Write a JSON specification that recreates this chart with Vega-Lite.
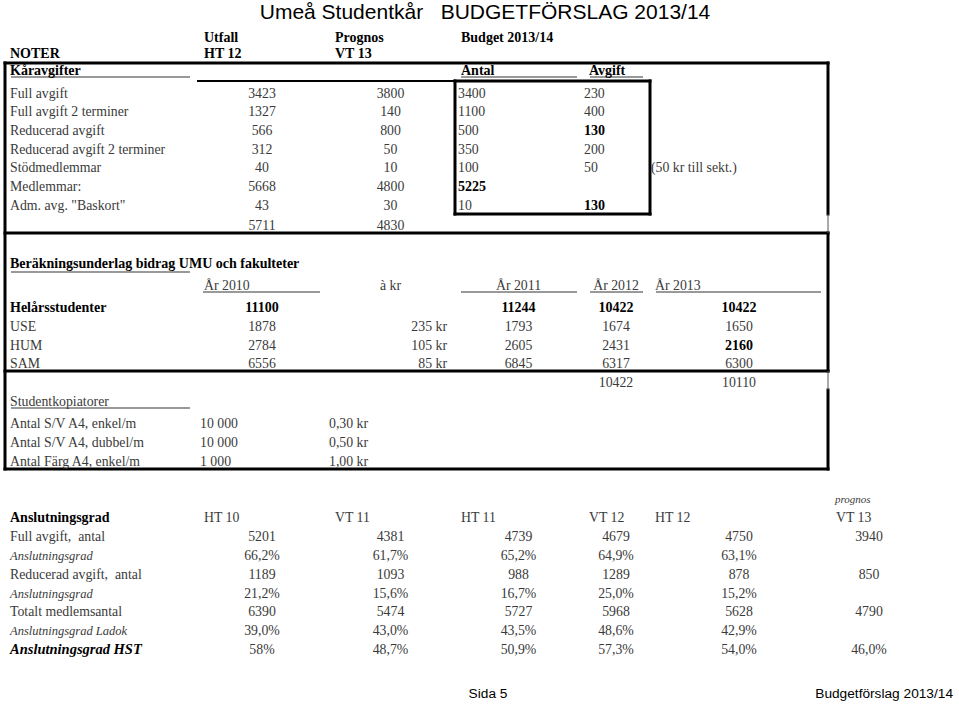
{
  "$schema": "https://vega.github.io/schema/vega-lite/v6.json",
  "width": 959,
  "height": 704,
  "autosize": {"type": "none"},
  "padding": 0,
  "background": "white",
  "config": {"view": {"stroke": null}},
  "datasets": {
    "cells": [
      {"r": 2, "c": 1, "t": "Utfall", "k": "ab"},
      {"r": 2, "c": 2, "t": "Prognos", "k": "ab"},
      {"r": 2, "c": 3, "t": "Budget 2013/14", "k": "ab"},
      {"r": 3, "c": 0, "t": "NOTER", "k": "ab"},
      {"r": 3, "c": 1, "t": "HT 12", "k": "ab"},
      {"r": 3, "c": 2, "t": "VT 13", "k": "ab"},
      {"r": 4, "c": 0, "t": "Kåravgifter", "k": "ab"},
      {"r": 4, "c": 3, "t": "Antal", "k": "ab"},
      {"r": 4, "c": 4, "t": "Avgift", "k": "ab"},
      {"r": 5, "c": 0, "t": "Full avgift", "k": "a"},
      {"r": 5, "c": 1, "t": "3423", "k": "c"},
      {"r": 5, "c": 2, "t": "3800", "k": "c"},
      {"r": 5, "c": 3, "t": "3400", "k": "v"},
      {"r": 5, "c": 4, "t": "230", "k": "v"},
      {"r": 6, "c": 0, "t": "Full avgift 2 terminer", "k": "a"},
      {"r": 6, "c": 1, "t": "1327", "k": "c"},
      {"r": 6, "c": 2, "t": "140", "k": "c"},
      {"r": 6, "c": 3, "t": "1100", "k": "v"},
      {"r": 6, "c": 4, "t": "400", "k": "v"},
      {"r": 7, "c": 0, "t": "Reducerad avgift", "k": "a"},
      {"r": 7, "c": 1, "t": "566", "k": "c"},
      {"r": 7, "c": 2, "t": "800", "k": "c"},
      {"r": 7, "c": 3, "t": "500", "k": "v"},
      {"r": 7, "c": 4, "t": "130", "k": "vb"},
      {"r": 8, "c": 0, "t": "Reducerad avgift 2 terminer", "k": "a"},
      {"r": 8, "c": 1, "t": "312", "k": "c"},
      {"r": 8, "c": 2, "t": "50", "k": "c"},
      {"r": 8, "c": 3, "t": "350", "k": "v"},
      {"r": 8, "c": 4, "t": "200", "k": "v"},
      {"r": 9, "c": 0, "t": "Stödmedlemmar", "k": "a"},
      {"r": 9, "c": 1, "t": "40", "k": "c"},
      {"r": 9, "c": 2, "t": "10", "k": "c"},
      {"r": 9, "c": 3, "t": "100", "k": "v"},
      {"r": 9, "c": 4, "t": "50", "k": "v"},
      {"r": 9, "c": 5, "t": "(50 kr till sekt.)", "k": "v"},
      {"r": 10, "c": 0, "t": "Medlemmar:", "k": "a"},
      {"r": 10, "c": 1, "t": "5668", "k": "c"},
      {"r": 10, "c": 2, "t": "4800", "k": "c"},
      {"r": 10, "c": 3, "t": "5225", "k": "vb"},
      {"r": 11, "c": 0, "t": "Adm. avg. \"Baskort\"", "k": "a"},
      {"r": 11, "c": 1, "t": "43", "k": "c"},
      {"r": 11, "c": 2, "t": "30", "k": "c"},
      {"r": 11, "c": 3, "t": "10", "k": "v"},
      {"r": 11, "c": 4, "t": "130", "k": "vb"},
      {"r": 12, "c": 1, "t": "5711", "k": "c"},
      {"r": 12, "c": 2, "t": "4830", "k": "c"},
      {"r": 14, "c": 0, "t": "Beräkningsunderlag bidrag UMU och fakulteter", "k": "ab"},
      {"r": 15, "c": 1, "t": "År 2010", "k": "a"},
      {"r": 15, "c": 2, "t": "à kr", "k": "c"},
      {"r": 15, "c": 3, "t": "År 2011", "k": "c"},
      {"r": 15, "c": 4, "t": "År 2012", "k": "c"},
      {"r": 15, "c": 5, "t": "År 2013", "k": "a"},
      {"r": 16, "c": 0, "t": "Helårsstudenter", "k": "ab"},
      {"r": 16, "c": 1, "t": "11100", "k": "cb"},
      {"r": 16, "c": 3, "t": "11244", "k": "cb"},
      {"r": 16, "c": 4, "t": "10422", "k": "cb"},
      {"r": 16, "c": 5, "t": "10422", "k": "cb"},
      {"r": 17, "c": 0, "t": "USE", "k": "a"},
      {"r": 17, "c": 1, "t": "1878", "k": "c"},
      {"r": 17, "c": 2, "t": "235 kr", "k": "r"},
      {"r": 17, "c": 3, "t": "1793", "k": "c"},
      {"r": 17, "c": 4, "t": "1674", "k": "c"},
      {"r": 17, "c": 5, "t": "1650", "k": "c"},
      {"r": 18, "c": 0, "t": "HUM", "k": "a"},
      {"r": 18, "c": 1, "t": "2784", "k": "c"},
      {"r": 18, "c": 2, "t": "105 kr", "k": "r"},
      {"r": 18, "c": 3, "t": "2605", "k": "c"},
      {"r": 18, "c": 4, "t": "2431", "k": "c"},
      {"r": 18, "c": 5, "t": "2160", "k": "cb"},
      {"r": 19, "c": 0, "t": "SAM", "k": "a"},
      {"r": 19, "c": 1, "t": "6556", "k": "c"},
      {"r": 19, "c": 2, "t": "85 kr", "k": "r"},
      {"r": 19, "c": 3, "t": "6845", "k": "c"},
      {"r": 19, "c": 4, "t": "6317", "k": "c"},
      {"r": 19, "c": 5, "t": "6300", "k": "c"},
      {"r": 20, "c": 4, "t": "10422", "k": "c"},
      {"r": 20, "c": 5, "t": "10110", "k": "c"},
      {"r": 21, "c": 0, "t": "Studentkopiatorer", "k": "a"},
      {"r": 22, "c": 0, "t": "Antal S/V A4, enkel/m", "k": "a"},
      {"r": 22, "c": 1, "t": "10 000", "k": "v"},
      {"r": 22, "c": 2, "t": "0,30 kr", "k": "v"},
      {"r": 23, "c": 0, "t": "Antal S/V A4, dubbel/m", "k": "a"},
      {"r": 23, "c": 1, "t": "10 000", "k": "v"},
      {"r": 23, "c": 2, "t": "0,50 kr", "k": "v"},
      {"r": 24, "c": 0, "t": "Antal Färg A4, enkel/m", "k": "a"},
      {"r": 24, "c": 1, "t": "1 000", "k": "v"},
      {"r": 24, "c": 2, "t": "1,00 kr", "k": "v"},
      {"r": 26, "c": 6, "t": "prognos", "k": "s"},
      {"r": 27, "c": 0, "t": "Anslutningsgrad", "k": "ab"},
      {"r": 27, "c": 1, "t": "HT 10", "k": "a"},
      {"r": 27, "c": 2, "t": "VT 11", "k": "a"},
      {"r": 27, "c": 3, "t": "HT 11", "k": "a"},
      {"r": 27, "c": 4, "t": "VT 12", "k": "a"},
      {"r": 27, "c": 5, "t": "HT 12", "k": "a"},
      {"r": 27, "c": 6, "t": "VT 13", "k": "a"},
      {"r": 28, "c": 0, "t": "Full avgift,\u00a0 antal", "k": "a"},
      {"r": 28, "c": 1, "t": "5201", "k": "c"},
      {"r": 28, "c": 2, "t": "4381", "k": "c"},
      {"r": 28, "c": 3, "t": "4739", "k": "c"},
      {"r": 28, "c": 4, "t": "4679", "k": "c"},
      {"r": 28, "c": 5, "t": "4750", "k": "c"},
      {"r": 28, "c": 6, "t": "3940", "k": "c"},
      {"r": 29, "c": 0, "t": "Anslutningsgrad", "k": "ai"},
      {"r": 29, "c": 1, "t": "66,2%", "k": "c"},
      {"r": 29, "c": 2, "t": "61,7%", "k": "c"},
      {"r": 29, "c": 3, "t": "65,2%", "k": "c"},
      {"r": 29, "c": 4, "t": "64,9%", "k": "c"},
      {"r": 29, "c": 5, "t": "63,1%", "k": "c"},
      {"r": 30, "c": 0, "t": "Reducerad avgift,\u00a0 antal", "k": "a"},
      {"r": 30, "c": 1, "t": "1189", "k": "c"},
      {"r": 30, "c": 2, "t": "1093", "k": "c"},
      {"r": 30, "c": 3, "t": "988", "k": "c"},
      {"r": 30, "c": 4, "t": "1289", "k": "c"},
      {"r": 30, "c": 5, "t": "878", "k": "c"},
      {"r": 30, "c": 6, "t": "850", "k": "c"},
      {"r": 31, "c": 0, "t": "Anslutningsgrad", "k": "ai"},
      {"r": 31, "c": 1, "t": "21,2%", "k": "c"},
      {"r": 31, "c": 2, "t": "15,6%", "k": "c"},
      {"r": 31, "c": 3, "t": "16,7%", "k": "c"},
      {"r": 31, "c": 4, "t": "25,0%", "k": "c"},
      {"r": 31, "c": 5, "t": "15,2%", "k": "c"},
      {"r": 32, "c": 0, "t": "Totalt medlemsantal", "k": "a"},
      {"r": 32, "c": 1, "t": "6390", "k": "c"},
      {"r": 32, "c": 2, "t": "5474", "k": "c"},
      {"r": 32, "c": 3, "t": "5727", "k": "c"},
      {"r": 32, "c": 4, "t": "5968", "k": "c"},
      {"r": 32, "c": 5, "t": "5628", "k": "c"},
      {"r": 32, "c": 6, "t": "4790", "k": "c"},
      {"r": 33, "c": 0, "t": "Anslutningsgrad Ladok", "k": "ai"},
      {"r": 33, "c": 1, "t": "39,0%", "k": "c"},
      {"r": 33, "c": 2, "t": "43,0%", "k": "c"},
      {"r": 33, "c": 3, "t": "43,5%", "k": "c"},
      {"r": 33, "c": 4, "t": "48,6%", "k": "c"},
      {"r": 33, "c": 5, "t": "42,9%", "k": "c"},
      {"r": 34, "c": 0, "t": "Anslutningsgrad HST", "k": "abi"},
      {"r": 34, "c": 1, "t": "58%", "k": "c"},
      {"r": 34, "c": 2, "t": "48,7%", "k": "c"},
      {"r": 34, "c": 3, "t": "50,9%", "k": "c"},
      {"r": 34, "c": 4, "t": "57,3%", "k": "c"},
      {"r": 34, "c": 5, "t": "54,0%", "k": "c"},
      {"r": 34, "c": 6, "t": "46,0%", "k": "c"}
    ],
    "page": [
      {"r": 1, "p": "center", "t": "Umeå Studentkår\u00a0\u00a0 BUDGETFÖRSLAG 2013/14", "k": "title"},
      {"r": 35, "p": "center", "t": "Sida 5", "k": "fc"},
      {"r": 35, "p": "right", "t": "Budgetförslag 2013/14", "k": "fr"}
    ],
    "borders": [
      {"x0": 0, "x1": 6, "y0": 3, "y1": 3, "w": "thick"},
      {"x0": 0, "x1": 6, "y0": 12, "y1": 12, "w": "thick"},
      {"x0": 0, "x1": 6, "y0": 19, "y1": 19, "w": "thick"},
      {"x0": 0, "x1": 6, "y0": 24, "y1": 24, "w": "thick"},
      {"x0": 3, "x1": 5, "y0": 4, "y1": 4, "w": "thick"},
      {"x0": 3, "x1": 5, "y0": 11, "y1": 11, "w": "thick"},
      {"x0": 0, "x1": 0, "y0": 3, "y1": 24, "w": "thick"},
      {"x0": 6, "x1": 6, "y0": 3, "y1": 11, "w": "thick"},
      {"x0": 6, "x1": 6, "y0": 12, "y1": 19, "w": "thick"},
      {"x0": 6, "x1": 6, "y0": 20, "y1": 24, "w": "thick"},
      {"x0": 3, "x1": 3, "y0": 4, "y1": 11, "w": "thick"},
      {"x0": 5, "x1": 5, "y0": 4, "y1": 11, "w": "thick"},
      {"x0": 1, "x1": 3, "y0": 4, "y1": 4, "w": "medium"},
      {"x0": 6, "x1": 6, "y0": 11, "y1": 12, "w": "thin"},
      {"x0": 6, "x1": 6, "y0": 19, "y1": 20, "w": "thin"}
    ],
    "underlines": [
      {"c0": 0, "c1": 1, "r": 4},
      {"c0": 3, "c1": 4, "r": 4},
      {"c0": 4, "c1": 5, "r": 4},
      {"c0": 0, "c1": 1, "r": 14},
      {"c0": 1, "c1": 2, "r": 15},
      {"c0": 3, "c1": 4, "r": 15},
      {"c0": 4, "c1": 5, "r": 15},
      {"c0": 5, "c1": 6, "r": 15},
      {"c0": 0, "c1": 1, "r": 21}
    ]
  },
  "resolve": {"scale": {"x": "independent", "y": "independent"}},
  "layer": [
    {
      "data": {"name": "borders"},
      "transform": [{"filter": "datum.w === 'thick'"}],
      "mark": {"type": "rule", "stroke": "#000000", "strokeWidth": 3, "strokeCap": "square"},
      "encoding": {
        "x": {"field": "x0", "type": "quantitative", "axis": null, "scale": {"domain": [0, 1, 2, 3, 4, 5, 6], "range": [5, 197, 327, 455, 584, 650, 828], "zero": false, "nice": false}},
        "x2": {"field": "x1"},
        "y": {"field": "y0", "type": "quantitative", "axis": null, "scale": {"domain": [3, 4, 11, 12, 19, 20, 24], "range": [63, 81, 214, 233, 371, 390, 469], "zero": false, "nice": false}},
        "y2": {"field": "y1"}
      }
    },
    {
      "data": {"name": "borders"},
      "transform": [{"filter": "datum.w === 'medium'"}],
      "mark": {"type": "rule", "stroke": "#000000", "strokeWidth": 2},
      "encoding": {
        "x": {"field": "x0", "type": "quantitative", "axis": null, "scale": {"domain": [0, 1, 2, 3, 4, 5, 6], "range": [5, 197, 327, 455, 584, 650, 828], "zero": false, "nice": false}},
        "x2": {"field": "x1"},
        "y": {"field": "y0", "type": "quantitative", "axis": null, "scale": {"domain": [3, 4, 11, 12, 19, 20, 24], "range": [63, 81, 214, 233, 371, 390, 469], "zero": false, "nice": false}},
        "y2": {"field": "y1"}
      }
    },
    {
      "data": {"name": "borders"},
      "transform": [{"filter": "datum.w === 'thin'"}],
      "mark": {"type": "rule", "stroke": "#555555", "strokeWidth": 1},
      "encoding": {
        "x": {"field": "x0", "type": "quantitative", "axis": null, "scale": {"domain": [0, 1, 2, 3, 4, 5, 6], "range": [5, 197, 327, 455, 584, 650, 828], "zero": false, "nice": false}},
        "x2": {"field": "x1"},
        "y": {"field": "y0", "type": "quantitative", "axis": null, "scale": {"domain": [3, 4, 11, 12, 19, 20, 24], "range": [63, 81, 214, 233, 371, 390, 469], "zero": false, "nice": false}},
        "y2": {"field": "y1"}
      }
    },
    {
      "data": {"name": "underlines"},
      "mark": {"type": "rule", "stroke": "#777777", "strokeWidth": 1.6, "xOffset": 6, "x2Offset": -7},
      "encoding": {
        "x": {"field": "c0", "type": "quantitative", "axis": null, "scale": {"domain": [0, 1, 2, 3, 4, 5, 6], "range": [5, 197, 327, 455, 584, 650, 828], "zero": false, "nice": false}},
        "x2": {"field": "c1"},
        "y": {"field": "r", "type": "quantitative", "axis": null, "scale": {"domain": [4, 14, 15, 21], "range": [77, 272, 292, 408], "zero": false, "nice": false}}
      }
    },
    {
      "data": {"name": "cells"},
      "transform": [{"filter": "datum.k === 'a'"}],
      "mark": {"type": "text", "align": "left", "baseline": "middle", "dy": 1.5, "font": "Liberation Serif", "fontSize": 13.8, "fill": "#3a3a3a"},
      "encoding": {
        "x": {"field": "c", "type": "quantitative", "axis": null, "scale": {"domain": [0, 1, 2, 3, 4, 5, 6], "range": [10, 204, 335, 461, 589, 655, 836], "zero": false, "nice": false}},
        "y": {"field": "r", "type": "quantitative", "axis": null, "scale": {"domain": [1,2,3,4,5,6,7,8,9,10,11,12,13,14,15,16,17,18,19,20,21,22,23,24,25,26,27,28,29,30,31,32,33,34,35], "range": [13,36,52,69,92,110,129,148,166,185,204,224,243,262,284,306,325,344,362,381,400,422,441,460,479,498,516,535,554,573,592,610,629,648,694], "zero": false, "nice": false}},
        "text": {"field": "t"}
      }
    },
    {
      "data": {"name": "cells"},
      "transform": [{"filter": "datum.k === 'ab'"}],
      "mark": {"type": "text", "align": "left", "baseline": "middle", "dy": 1.5, "font": "Liberation Serif", "fontSize": 14, "fontWeight": "bold", "fill": "#000000"},
      "encoding": {
        "x": {"field": "c", "type": "quantitative", "axis": null, "scale": {"domain": [0, 1, 2, 3, 4, 5, 6], "range": [10, 204, 335, 461, 589, 655, 836], "zero": false, "nice": false}},
        "y": {"field": "r", "type": "quantitative", "axis": null, "scale": {"domain": [1,2,3,4,5,6,7,8,9,10,11,12,13,14,15,16,17,18,19,20,21,22,23,24,25,26,27,28,29,30,31,32,33,34,35], "range": [13,36,52,69,92,110,129,148,166,185,204,224,243,262,284,306,325,344,362,381,400,422,441,460,479,498,516,535,554,573,592,610,629,648,694], "zero": false, "nice": false}},
        "text": {"field": "t"}
      }
    },
    {
      "data": {"name": "cells"},
      "transform": [{"filter": "datum.k === 'ai'"}],
      "mark": {"type": "text", "align": "left", "baseline": "middle", "dy": 1.5, "font": "Liberation Serif", "fontSize": 12.5, "fontStyle": "italic", "fill": "#3a3a3a"},
      "encoding": {
        "x": {"field": "c", "type": "quantitative", "axis": null, "scale": {"domain": [0, 1, 2, 3, 4, 5, 6], "range": [10, 204, 335, 461, 589, 655, 836], "zero": false, "nice": false}},
        "y": {"field": "r", "type": "quantitative", "axis": null, "scale": {"domain": [1,2,3,4,5,6,7,8,9,10,11,12,13,14,15,16,17,18,19,20,21,22,23,24,25,26,27,28,29,30,31,32,33,34,35], "range": [13,36,52,69,92,110,129,148,166,185,204,224,243,262,284,306,325,344,362,381,400,422,441,460,479,498,516,535,554,573,592,610,629,648,694], "zero": false, "nice": false}},
        "text": {"field": "t"}
      }
    },
    {
      "data": {"name": "cells"},
      "transform": [{"filter": "datum.k === 'abi'"}],
      "mark": {"type": "text", "align": "left", "baseline": "middle", "dy": 1.5, "font": "Liberation Serif", "fontSize": 14.5, "fontStyle": "italic", "fontWeight": "bold", "fill": "#000000"},
      "encoding": {
        "x": {"field": "c", "type": "quantitative", "axis": null, "scale": {"domain": [0, 1, 2, 3, 4, 5, 6], "range": [10, 204, 335, 461, 589, 655, 836], "zero": false, "nice": false}},
        "y": {"field": "r", "type": "quantitative", "axis": null, "scale": {"domain": [1,2,3,4,5,6,7,8,9,10,11,12,13,14,15,16,17,18,19,20,21,22,23,24,25,26,27,28,29,30,31,32,33,34,35], "range": [13,36,52,69,92,110,129,148,166,185,204,224,243,262,284,306,325,344,362,381,400,422,441,460,479,498,516,535,554,573,592,610,629,648,694], "zero": false, "nice": false}},
        "text": {"field": "t"}
      }
    },
    {
      "data": {"name": "cells"},
      "transform": [{"filter": "datum.k === 's'"}],
      "mark": {"type": "text", "align": "left", "baseline": "middle", "dy": 1.5, "font": "Liberation Serif", "fontSize": 11, "fontStyle": "italic", "fill": "#3a3a3a"},
      "encoding": {
        "x": {"field": "c", "type": "quantitative", "axis": null, "scale": {"domain": [0, 1, 2, 3, 4, 5, 6], "range": [10, 204, 335, 461, 589, 655, 835], "zero": false, "nice": false}},
        "y": {"field": "r", "type": "quantitative", "axis": null, "scale": {"domain": [1,2,3,4,5,6,7,8,9,10,11,12,13,14,15,16,17,18,19,20,21,22,23,24,25,26,27,28,29,30,31,32,33,34,35], "range": [13,36,52,69,92,110,129,148,166,185,204,224,243,262,284,306,325,344,362,381,400,422,441,460,479,498,516,535,554,573,592,610,629,648,694], "zero": false, "nice": false}},
        "text": {"field": "t"}
      }
    },
    {
      "data": {"name": "cells"},
      "transform": [{"filter": "datum.k === 'v'"}],
      "mark": {"type": "text", "align": "left", "baseline": "middle", "dy": 1.5, "font": "Liberation Serif", "fontSize": 13.8, "fill": "#3a3a3a"},
      "encoding": {
        "x": {"field": "c", "type": "quantitative", "axis": null, "scale": {"domain": [0, 1, 2, 3, 4, 5, 6], "range": [10, 200, 329, 458, 584, 651, 832], "zero": false, "nice": false}},
        "y": {"field": "r", "type": "quantitative", "axis": null, "scale": {"domain": [1,2,3,4,5,6,7,8,9,10,11,12,13,14,15,16,17,18,19,20,21,22,23,24,25,26,27,28,29,30,31,32,33,34,35], "range": [13,36,52,69,92,110,129,148,166,185,204,224,243,262,284,306,325,344,362,381,400,422,441,460,479,498,516,535,554,573,592,610,629,648,694], "zero": false, "nice": false}},
        "text": {"field": "t"}
      }
    },
    {
      "data": {"name": "cells"},
      "transform": [{"filter": "datum.k === 'vb'"}],
      "mark": {"type": "text", "align": "left", "baseline": "middle", "dy": 1.5, "font": "Liberation Serif", "fontSize": 14, "fontWeight": "bold", "fill": "#000000"},
      "encoding": {
        "x": {"field": "c", "type": "quantitative", "axis": null, "scale": {"domain": [0, 1, 2, 3, 4, 5, 6], "range": [10, 200, 329, 458, 584, 651, 832], "zero": false, "nice": false}},
        "y": {"field": "r", "type": "quantitative", "axis": null, "scale": {"domain": [1,2,3,4,5,6,7,8,9,10,11,12,13,14,15,16,17,18,19,20,21,22,23,24,25,26,27,28,29,30,31,32,33,34,35], "range": [13,36,52,69,92,110,129,148,166,185,204,224,243,262,284,306,325,344,362,381,400,422,441,460,479,498,516,535,554,573,592,610,629,648,694], "zero": false, "nice": false}},
        "text": {"field": "t"}
      }
    },
    {
      "data": {"name": "cells"},
      "transform": [{"filter": "datum.k === 'c'"}],
      "mark": {"type": "text", "align": "center", "baseline": "middle", "dy": 1.5, "font": "Liberation Serif", "fontSize": 13.8, "fill": "#3a3a3a"},
      "encoding": {
        "x": {"field": "c", "type": "quantitative", "axis": null, "scale": {"domain": [0, 1, 2, 3, 4, 5, 6], "range": [101, 262, 390.5, 518.5, 616, 739, 869], "zero": false, "nice": false}},
        "y": {"field": "r", "type": "quantitative", "axis": null, "scale": {"domain": [1,2,3,4,5,6,7,8,9,10,11,12,13,14,15,16,17,18,19,20,21,22,23,24,25,26,27,28,29,30,31,32,33,34,35], "range": [13,36,52,69,92,110,129,148,166,185,204,224,243,262,284,306,325,344,362,381,400,422,441,460,479,498,516,535,554,573,592,610,629,648,694], "zero": false, "nice": false}},
        "text": {"field": "t"}
      }
    },
    {
      "data": {"name": "cells"},
      "transform": [{"filter": "datum.k === 'cb'"}],
      "mark": {"type": "text", "align": "center", "baseline": "middle", "dy": 1.5, "font": "Liberation Serif", "fontSize": 14, "fontWeight": "bold", "fill": "#000000"},
      "encoding": {
        "x": {"field": "c", "type": "quantitative", "axis": null, "scale": {"domain": [0, 1, 2, 3, 4, 5, 6], "range": [101, 262, 390.5, 518.5, 616, 739, 869], "zero": false, "nice": false}},
        "y": {"field": "r", "type": "quantitative", "axis": null, "scale": {"domain": [1,2,3,4,5,6,7,8,9,10,11,12,13,14,15,16,17,18,19,20,21,22,23,24,25,26,27,28,29,30,31,32,33,34,35], "range": [13,36,52,69,92,110,129,148,166,185,204,224,243,262,284,306,325,344,362,381,400,422,441,460,479,498,516,535,554,573,592,610,629,648,694], "zero": false, "nice": false}},
        "text": {"field": "t"}
      }
    },
    {
      "data": {"name": "cells"},
      "transform": [{"filter": "datum.k === 'r'"}],
      "mark": {"type": "text", "align": "right", "baseline": "middle", "dy": 1.5, "font": "Liberation Serif", "fontSize": 13.8, "fill": "#3a3a3a"},
      "encoding": {
        "x": {"field": "c", "type": "quantitative", "axis": null, "scale": {"domain": [0, 1, 2, 3, 4, 5, 6], "range": [190, 320, 447, 577, 643, 821, 903], "zero": false, "nice": false}},
        "y": {"field": "r", "type": "quantitative", "axis": null, "scale": {"domain": [1,2,3,4,5,6,7,8,9,10,11,12,13,14,15,16,17,18,19,20,21,22,23,24,25,26,27,28,29,30,31,32,33,34,35], "range": [13,36,52,69,92,110,129,148,166,185,204,224,243,262,284,306,325,344,362,381,400,422,441,460,479,498,516,535,554,573,592,610,629,648,694], "zero": false, "nice": false}},
        "text": {"field": "t"}
      }
    },
    {
      "data": {"name": "page"},
      "transform": [{"filter": "datum.k === 'title'"}],
      "mark": {"type": "text", "align": "center", "baseline": "middle", "font": "Liberation Sans", "fontSize": 21, "fill": "#000000"},
      "encoding": {
        "x": {"field": "p", "type": "nominal", "axis": null, "scale": {"type": "point", "domain": ["center", "right"], "range": [485, 953], "padding": 0}},
        "y": {"field": "r", "type": "quantitative", "axis": null, "scale": {"domain": [1,2,3,4,5,6,7,8,9,10,11,12,13,14,15,16,17,18,19,20,21,22,23,24,25,26,27,28,29,30,31,32,33,34,35], "range": [13,36,52,69,92,110,129,148,166,185,204,224,243,262,284,306,325,344,362,381,400,422,441,460,479,498,516,535,554,573,592,610,629,648,694], "zero": false, "nice": false}},
        "text": {"field": "t"}
      }
    },
    {
      "data": {"name": "page"},
      "transform": [{"filter": "datum.k === 'fc'"}],
      "mark": {"type": "text", "align": "center", "baseline": "middle", "font": "Liberation Sans", "fontSize": 13.7, "fill": "#000000"},
      "encoding": {
        "x": {"field": "p", "type": "nominal", "axis": null, "scale": {"type": "point", "domain": ["center", "right"], "range": [488, 953], "padding": 0}},
        "y": {"field": "r", "type": "quantitative", "axis": null, "scale": {"domain": [1,2,3,4,5,6,7,8,9,10,11,12,13,14,15,16,17,18,19,20,21,22,23,24,25,26,27,28,29,30,31,32,33,34,35], "range": [13,36,52,69,92,110,129,148,166,185,204,224,243,262,284,306,325,344,362,381,400,422,441,460,479,498,516,535,554,573,592,610,629,648,694], "zero": false, "nice": false}},
        "text": {"field": "t"}
      }
    },
    {
      "data": {"name": "page"},
      "transform": [{"filter": "datum.k === 'fr'"}],
      "mark": {"type": "text", "align": "right", "baseline": "middle", "font": "Liberation Sans", "fontSize": 13.7, "fill": "#000000"},
      "encoding": {
        "x": {"field": "p", "type": "nominal", "axis": null, "scale": {"type": "point", "domain": ["center", "right"], "range": [488, 953], "padding": 0}},
        "y": {"field": "r", "type": "quantitative", "axis": null, "scale": {"domain": [1,2,3,4,5,6,7,8,9,10,11,12,13,14,15,16,17,18,19,20,21,22,23,24,25,26,27,28,29,30,31,32,33,34,35], "range": [13,36,52,69,92,110,129,148,166,185,204,224,243,262,284,306,325,344,362,381,400,422,441,460,479,498,516,535,554,573,592,610,629,648,694], "zero": false, "nice": false}},
        "text": {"field": "t"}
      }
    }
  ]
}
